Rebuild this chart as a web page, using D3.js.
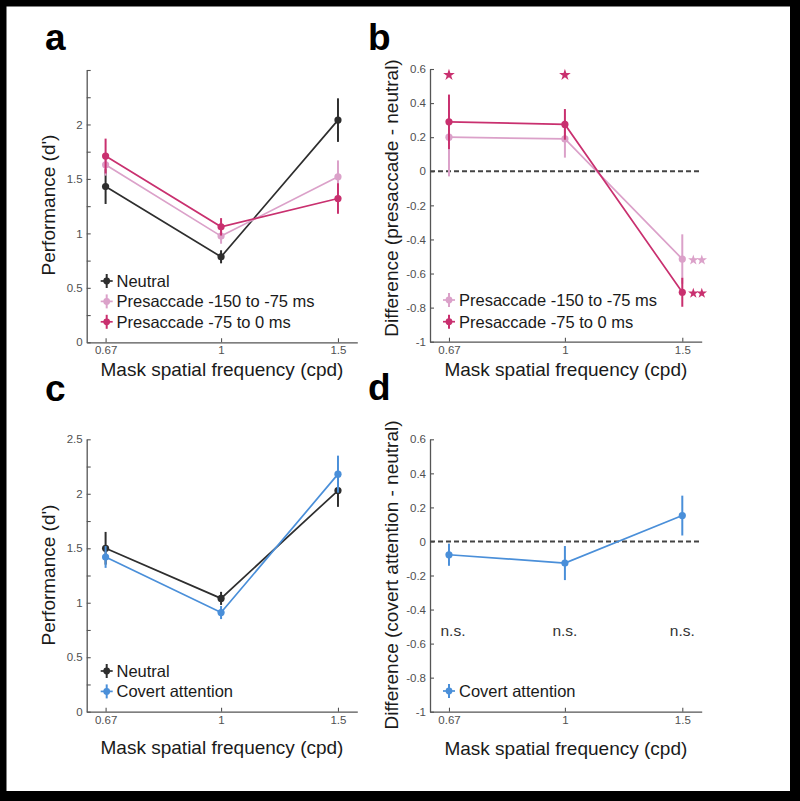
<!DOCTYPE html>
<html><head><meta charset="utf-8">
<script src="https://cdn.jsdelivr.net/npm/d3@7"></script>
<style>body{margin:0;background:#fff}svg{display:block}</style>
</head><body>
<svg id="fig" width="800" height="801"></svg>
<script>
// ---------- data ----------
const freqs = [0.67, 1, 1.5];
const freqLabels = ["0.67", "1", "1.5"];
const perfTicks = [0, 0.25, 0.5, 0.75, 1, 1.25, 1.5, 1.75, 2, 2.25, 2.5];
const perfLabelsA = [0, 0.5, 1, 1.5, 2];
const perfLabelsC = [0, 0.5, 1, 1.5, 2, 2.5];
const diffTicks = [-1, -0.8, -0.6, -0.4, -0.2, 0, 0.2, 0.4, 0.6];

// panel a
const aNeutral = [1.43, 0.785, 2.04];
const aNeutralErr = [0.16, 0.06, 0.2];
const aPre150 = [1.63, 0.975, 1.52];
const aPre150Err = [0.1, 0.07, 0.15];
const aPre75 = [1.71, 1.06, 1.32];
const aPre75Err = [0.16, 0.08, 0.14];
// panel b
const bPre150 = [0.20, 0.19, -0.515];
const bPre150Err = [0.23, 0.11, 0.145];
const bPre75 = [0.29, 0.275, -0.71];
const bPre75Err = [0.16, 0.09, 0.085];
const bSigPre150 = ["", "", "**"];
const bSigPre75 = ["*", "*", "**"];
// panel c
const cNeutral = [1.50, 1.04, 2.03];
const cNeutralErr = [0.15, 0.06, 0.15];
const cCovert = [1.42, 0.91, 2.18];
const cCovertErr = [0.1, 0.06, 0.17];
// panel d
const dCovert = [-0.078, -0.127, 0.152];
const dCovertErr = [0.065, 0.1, 0.117];
const dSig = ["n.s.", "n.s.", "n.s."];

const legendA = ["Neutral", "Presaccade -150 to -75 ms", "Presaccade -75 to 0 ms"];
const legendB = ["Presaccade -150 to -75 ms", "Presaccade -75 to 0 ms"];
const legendC = ["Neutral", "Covert attention"];
const legendD = ["Covert attention"];

// ---------- style ----------
const FONT = "'Liberation Sans', Arial, Helvetica, sans-serif";
const C_NEU = "#2e2e2e", C_P150 = "#dba1c9", C_P75 = "#c9306f", C_COV = "#4a8fd9";
const AXIS_C = "#555";

const svg = d3.select("#fig");
svg.append("rect").attr("width", 800).attr("height", 801).attr("fill", "#000");
svg.append("rect").attr("x", 6.5).attr("y", 6.5).attr("width", 783.5).attr("height", 784.5).attr("fill", "#fff");

function fmt(d) { return String(Math.round(d * 100) / 100); }

function makePanel(o) {
  const g = svg.append("g");
  const x = d3.scaleLog().domain([0.6275, 1.604]).range([o.x0, o.x1]);
  const y = d3.scaleLinear().domain(o.yDomain).range([o.yBot, o.yTop]);

  const yAxis = d3.axisLeft(y).tickValues(o.yTicks).tickSize(-4).tickSizeOuter(0).tickPadding(4)
    .tickFormat(d => o.yLabels.some(v => Math.abs(v - d) < 1e-9) ? fmt(d) : "");
  const ya = g.append("g").attr("transform", `translate(${o.x0},0)`).call(yAxis);
  const xAxis = d3.axisBottom(x).tickValues(freqs).tickSize(-4).tickSizeOuter(0).tickPadding(4)
    .tickFormat((d, i) => freqLabels[i]);
  const xa = g.append("g").attr("transform", `translate(0,${o.yBot})`).call(xAxis);
  [ya, xa].forEach(a => {
    a.select(".domain").attr("stroke", AXIS_C).attr("stroke-width", 1.3);
    a.selectAll(".tick line").attr("stroke", AXIS_C).attr("stroke-width", 1.1);
    a.selectAll(".tick text").attr("fill", "#505050").attr("font-size", 11.5).attr("font-family", FONT);
  });

  // axis labels
  g.append("text").attr("x", (o.x0 + o.x1) / 2).attr("y", o.xLabelY).attr("text-anchor", "middle")
    .attr("font-family", FONT).attr("font-size", 19).attr("fill", "#1a1a1a").text("Mask spatial frequency (cpd)");
  g.append("text").attr("transform", `translate(${o.yLabelX},${o.yLabelC}) rotate(-90)`).attr("text-anchor", "middle")
    .attr("font-family", FONT).attr("font-size", 19).attr("fill", "#1a1a1a").text(o.yLabel);
  // panel letter
  g.append("text").attr("x", o.letterX).attr("y", o.letterY).attr("font-family", FONT).attr("font-weight", "bold")
    .attr("font-size", 37).attr("fill", "#000").text(o.letter);

  if (o.zeroLine) {
    g.append("line").attr("x1", o.x0).attr("x2", o.x1).attr("y1", y(0)).attr("y2", y(0))
      .attr("stroke", "#444").attr("stroke-width", 2).attr("stroke-dasharray", "5,3");
  }
  return { g, x, y };
}

function drawSeries(p, vals, errs, color) {
  const pts = freqs.map((f, i) => ({ f, v: vals[i], e: errs[i] }));
  p.g.append("path").datum(pts).attr("fill", "none").attr("stroke", color).attr("stroke-width", 1.7)
    .attr("d", d3.line().x(d => p.x(d.f)).y(d => p.y(d.v)));
  p.g.selectAll(null).data(pts).enter().append("line")
    .attr("x1", d => p.x(d.f)).attr("x2", d => p.x(d.f))
    .attr("y1", d => p.y(d.v - d.e)).attr("y2", d => p.y(d.v + d.e))
    .attr("stroke", color).attr("stroke-width", 2);
  p.g.selectAll(null).data(pts).enter().append("circle")
    .attr("cx", d => p.x(d.f)).attr("cy", d => p.y(d.v)).attr("r", 3.6).attr("fill", color);
}

function drawLegend(p, labels, colors, mx, tx, y0, dy) {
  labels.forEach((lab, i) => {
    const cy = y0 + i * dy;
    p.g.append("line").attr("x1", mx - 6).attr("x2", mx + 6).attr("y1", cy).attr("y2", cy).attr("stroke", colors[i]).attr("stroke-width", 1.7);
    p.g.append("line").attr("x1", mx).attr("x2", mx).attr("y1", cy - 7).attr("y2", cy + 7).attr("stroke", colors[i]).attr("stroke-width", 2);
    p.g.append("circle").attr("cx", mx).attr("cy", cy).attr("r", 3.4).attr("fill", colors[i]);
    p.g.append("text").attr("x", tx).attr("y", cy + 6).attr("font-family", FONT).attr("font-size", 16.5)
      .attr("fill", "#1a1a1a").text(lab);
  });
}

function drawStars(p, sig, vals, color) {
  sig.forEach((s, i) => {
    if (!s) return;
    if (s.length === 1) {
      p.g.append("path").attr("d", d3.symbol().type(d3.symbolStar).size(42)())
        .attr("transform", `translate(${p.x(freqs[i])},${p.y(0.565)})`).attr("fill", color);
    } else {
      for (let k = 0; k < s.length; k++) {
        p.g.append("path").attr("d", d3.symbol().type(d3.symbolStar).size(34)())
          .attr("transform", `translate(${p.x(freqs[i]) + 11 + k * 8.5},${p.y(vals[i]) + 1})`).attr("fill", color);
      }
    }
  });
}

// ---------- panel a ----------
const pa = makePanel({ x0: 86.7, x1: 357.3, yTop: 70, yBot: 342.3, yDomain: [0, 2.5], yTicks: perfTicks, yLabels: perfLabelsA,
  xLabelY: 375.5, yLabelX: 55, yLabelC: 205, yLabel: "Performance (d')", letter: "a", letterX: 45, letterY: 50 });
drawSeries(pa, aNeutral, aNeutralErr, C_NEU);
drawSeries(pa, aPre150, aPre150Err, C_P150);
drawSeries(pa, aPre75, aPre75Err, C_P75);
drawLegend(pa, legendA, [C_NEU, C_P150, C_P75], 106.7, 116.5, 281, 20.4);

// ---------- panel b ----------
const pb = makePanel({ x0: 430, x1: 701.7, yTop: 69, yBot: 341.7, yDomain: [-1, 0.6], yTicks: diffTicks, yLabels: diffTicks,
  xLabelY: 376, yLabelX: 398, yLabelC: 198, yLabel: "Difference (presaccade - neutral)", letter: "b", letterX: 368, letterY: 50, zeroLine: true });
drawSeries(pb, bPre150, bPre150Err, C_P150);
drawSeries(pb, bPre75, bPre75Err, C_P75);
drawStars(pb, bSigPre150, bPre150, C_P150);
drawStars(pb, bSigPre75, bPre75, C_P75);
drawLegend(pb, legendB, [C_P150, C_P75], 449, 459, 300, 21.7);

// ---------- panel c ----------
const pc = makePanel({ x0: 86.7, x1: 357.3, yTop: 439.3, yBot: 711.7, yDomain: [0, 2.5], yTicks: perfTicks, yLabels: perfLabelsC,
  xLabelY: 754, yLabelX: 55, yLabelC: 575, yLabel: "Performance (d')", letter: "c", letterX: 45, letterY: 401 });
drawSeries(pc, cNeutral, cNeutralErr, C_NEU);
drawSeries(pc, cCovert, cCovertErr, C_COV);
drawLegend(pc, legendC, [C_NEU, C_COV], 106.7, 116.5, 671, 20.4);

// ---------- panel d ----------
const pd = makePanel({ x0: 430, x1: 701.7, yTop: 439.3, yBot: 711.7, yDomain: [-1, 0.6], yTicks: diffTicks, yLabels: diffTicks,
  xLabelY: 755, yLabelX: 398, yLabelC: 575, yLabel: "Difference (covert attention - neutral)", letter: "d", letterX: 368, letterY: 400, zeroLine: true });
drawSeries(pd, dCovert, dCovertErr, C_COV);
dSig.forEach((s, i) => {
  pd.g.append("text").attr("x", pd.x(freqs[i]) + (i === 0 ? 4 : 0)).attr("y", pd.y(-0.555)).attr("text-anchor", "middle")
    .attr("font-family", FONT).attr("font-size", 15.5).attr("fill", "#333").text(s);
});
drawLegend(pd, legendD, [C_COV], 449, 459, 691, 20);
</script>
</body></html>
